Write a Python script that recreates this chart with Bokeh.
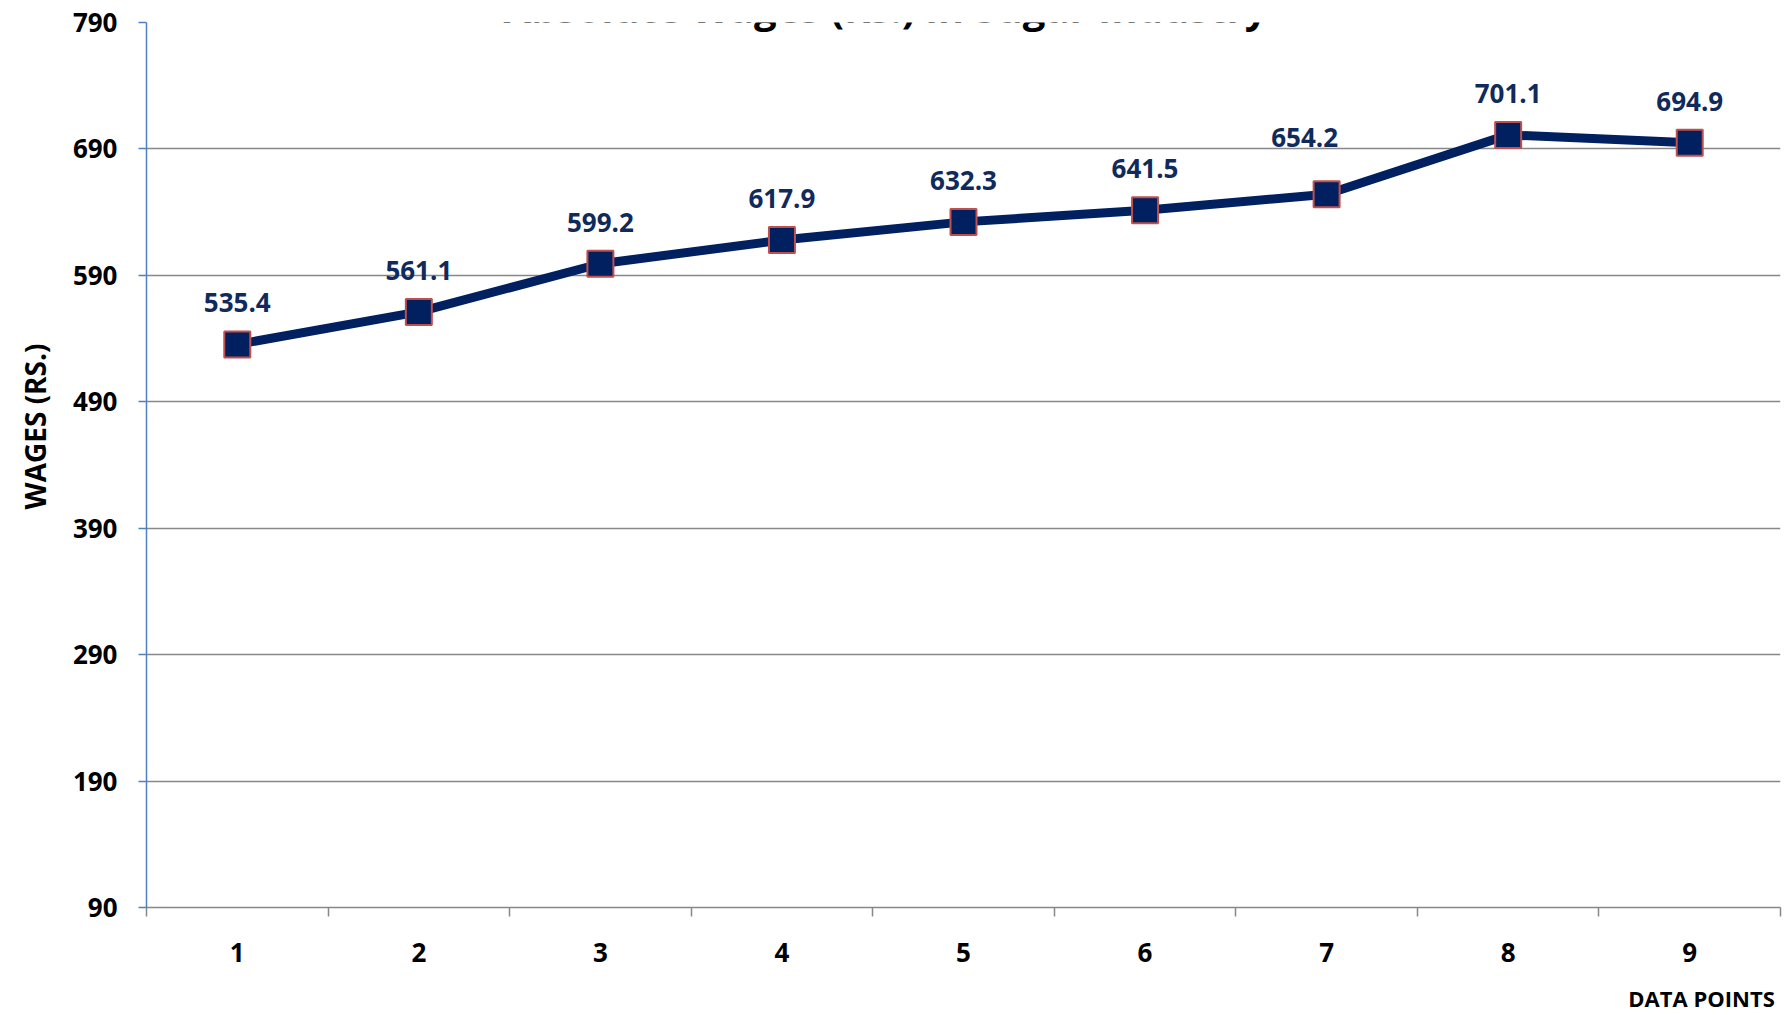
from bokeh.plotting import figure
from bokeh.models import FixedTicker, Label, LabelSet, ColumnDataSource, Range1d, Title, LinearAxis
from bokeh.core.properties import value
from bokeh.embed import file_html
from bokeh.resources import INLINE

# ---- data ----
data_points = [1, 2, 3, 4, 5, 6, 7, 8, 9]
wages = [535.4, 561.1, 599.2, 617.9, 632.3, 641.5, 654.2, 701.1, 694.9]
y_ticks = [90, 190, 290, 390, 490, 590, 690, 790]
title_text = "Absolute Wages (Rs.) in Sugar Industry"
y_title = "WAGES (RS.)"
x_title = "DATA POINTS"

FONT = "Open Sans"
NAVY = "#002060"
GRID = "#888888"

x_lo, x_hi = data_points[0] - 0.5, data_points[-1] + 0.5
y_lo, y_hi = y_ticks[0], y_ticks[-1]

p = figure(width=1784, height=1015, output_backend="svg", toolbar_location=None,
           x_range=Range1d(x_lo, x_hi), y_range=Range1d(y_lo, y_hi),
           min_border_left=146, min_border_right=4, min_border_top=22, min_border_bottom=107)
p.outline_line_color = None
p.background_fill_color = "white"

# x axis: labels at categories, ticks at category boundaries
bounds = [d - 0.5 for d in data_points] + [x_hi]
p.xaxis.ticker = FixedTicker(ticks=data_points, minor_ticks=bounds)
p.xaxis.axis_line_color = GRID
p.xaxis.axis_line_width = 1.5
p.xaxis.major_tick_line_color = None
p.xaxis.minor_tick_line_color = GRID
p.xaxis.minor_tick_line_width = 1.5
p.xaxis.minor_tick_in = 0
p.xaxis.minor_tick_out = 9
p.xaxis.major_tick_out = 0
p.xaxis.major_tick_in = 0
p.xaxis.major_label_standoff = 26
p.xaxis.major_label_text_font = FONT
p.xaxis.major_label_text_font_style = "bold"
p.xaxis.major_label_text_font_size = "26px"
p.xaxis.major_label_text_color = "black"
p.xgrid.visible = False

# y axis
p.yaxis.ticker = FixedTicker(ticks=y_ticks)
p.yaxis.axis_line_color = "#4f81bd"
p.yaxis.axis_line_width = 1.5
p.yaxis.major_tick_line_color = "#4f81bd"
p.yaxis.major_tick_line_width = 1.5
p.yaxis.major_tick_in = 0
p.yaxis.major_tick_out = 8
p.yaxis.minor_tick_line_color = None
p.yaxis.major_label_standoff = 21
p.yaxis.major_label_text_font = FONT
p.yaxis.major_label_text_font_style = "bold"
p.yaxis.major_label_text_font_size = "26px"
p.yaxis.major_label_text_color = "black"
p.ygrid.ticker = FixedTicker(ticks=y_ticks)
p.ygrid.grid_line_color = GRID
p.ygrid.grid_line_width = 1.5

# series
p.line(data_points, wages, line_width=9, line_color=NAVY)
p.scatter(data_points, wages, marker="square", size=26, fill_color=NAVY,
          line_color="#c0504d", line_width=2)

# data labels
labels = [f"{v:.1f}" for v in wages]
x_offsets = [0] * len(wages)
y_offsets = [32] * len(wages)
x_offsets[6] = -22
y_offsets[6] = 47
src = ColumnDataSource(dict(x=data_points, y=wages, text=labels, xo=x_offsets, yo=y_offsets))
p.add_layout(LabelSet(x="x", y="y", text="text", source=src, x_offset="xo", y_offset="yo",
                      text_align="center", text_baseline="alphabetic",
                      text_font=value(FONT), text_font_style="bold",
                      text_font_size=value("26px"), text_color="#102a5c"))

# title (partly cut off at top)
p.add_layout(Label(x=x_lo, y=y_hi, x_offset=739, y_offset=15, text=title_text,
                   text_align="center", text_baseline="alphabetic",
                   text_font=FONT, text_font_style="bold", text_font_size="40px",
                   text_color="black"))

# y axis title (side panel)
p.add_layout(Title(text=y_title, align="right", offset=321, standoff=28, vertical_align="top",
                   text_font=FONT, text_font_style="bold", text_font_size="28px",
                   text_color="black"), "left")

# x axis title: drawn as the single label of a second, line-less axis below
x_title_pos = round(x_hi - 0.435, 3)
title_axis = LinearAxis(ticker=FixedTicker(ticks=[x_title_pos]),
                        major_label_overrides={x_title_pos: x_title},
                        axis_line_color=None, major_tick_line_color=None,
                        minor_tick_line_color=None, major_tick_out=0, major_tick_in=0,
                        minor_tick_out=0, minor_tick_in=0, major_label_standoff=18,
                        major_label_text_font=FONT, major_label_text_font_style="bold",
                        major_label_text_font_size="22px", major_label_text_color="black")
p.add_layout(title_axis, "below")

open("out.html", "w").write(file_html(p, INLINE))
